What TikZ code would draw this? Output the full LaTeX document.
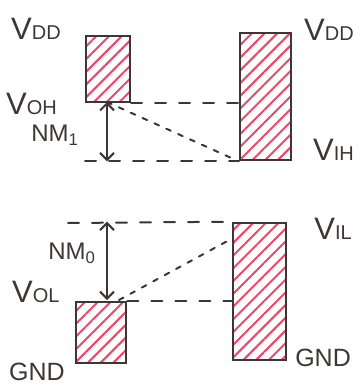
\documentclass[tikz,border=0pt]{standalone}
\usepackage{fontspec}
\setmainfont{Liberation Sans}
\usetikzlibrary{arrows.meta,patterns.meta}
\definecolor{ink}{RGB}{62,54,54}
\definecolor{hatch}{RGB}{236,70,105}
\newcommand\vlab[1]{V{\fontsize{20}{20}\selectfont #1}}
\begin{document}
\begin{tikzpicture}[x=1pt,y=-1pt,line cap=round,
  every node/.style={text=ink,inner sep=0pt},
  bar/.style={draw=ink,line width=2.6pt,pattern={Lines[angle=45,distance=9pt,line width=2pt]},pattern color=hatch},
  lbl/.style={font=\fontsize{31}{31}\selectfont},
  gnd/.style={font=\fontsize{25}{25}\selectfont},
  nmlbl/.style={font=\fontsize{24}{24}\selectfont},
  lvl/.style={draw=ink,line width=2pt,dash pattern=on 11pt off 13pt},
  slant/.style={draw=ink,line width=2pt,dash pattern=on 5pt off 8pt},
  nm/.style={draw=ink,line width=2pt,{Straight Barb[length=7pt,width=14pt]}-{Straight Barb[length=7pt,width=14pt]}}]
\useasboundingbox (0,0) rectangle (358,387);
\node[bar,minimum width=44pt,minimum height=66pt] (outhi) at (108,69) {};
\node[bar,minimum width=51pt,minimum height=127pt] (inhi) at (265.5,96.5) {};
\node[bar,minimum width=50pt,minimum height=61pt] (outlo) at (101,332.5) {};
\node[bar,minimum width=53pt,minimum height=137pt] (inlo) at (259.5,291.5) {};
\node[lbl,anchor=west] (vddl) at (11,29) {\vlab{DD}};
\node[lbl,anchor=west] (voh) at (6,104) {\vlab{OH}};
\node[nmlbl] (nm1) at (55,135) {NM\textsubscript{1}};
\node[lbl,anchor=east] (vddr) at (354,30) {\vlab{DD}};
\node[lbl,anchor=east] (vih) at (354,150) {\vlab{IH}};
\node[lbl,anchor=east] (vil) at (352,229) {\vlab{IL}};
\node[nmlbl] (nm0) at (72,253) {NM\textsubscript{0}};
\node[lbl,anchor=west] (vol) at (12,292) {\vlab{OL}};
\node[gnd,anchor=west] (gndl) at (9,372) {GND};
\node[gnd,anchor=east] (gndr) at (351,358) {GND};
\coordinate (nm1top) at (107,102);
\coordinate (nm1bot) at (outhi.south west |- inhi.south);
\coordinate (nm0top) at (68,223);
\coordinate (nm0bot) at (107,300);
\draw[lvl] (outhi.south east) -- (outhi.south east -| inhi.west);
\draw[lvl] (nm1bot) -- (inhi.south west);
\draw[slant] (nm1top) -- (inhi.south west);
\draw[nm] (nm1top) -- (nm1top |- inhi.south);
\draw[lvl] (nm0top) -- (inlo.north west);
\draw[lvl] (outlo.north east) -- (outlo.north east -| inlo.west);
\draw[slant] ([xshift=12pt]nm0bot) -- ([yshift=-17pt]inlo.north west);
\draw[nm] (nm0bot |- inlo.north) -- (nm0bot);
\end{tikzpicture}
\end{document}
